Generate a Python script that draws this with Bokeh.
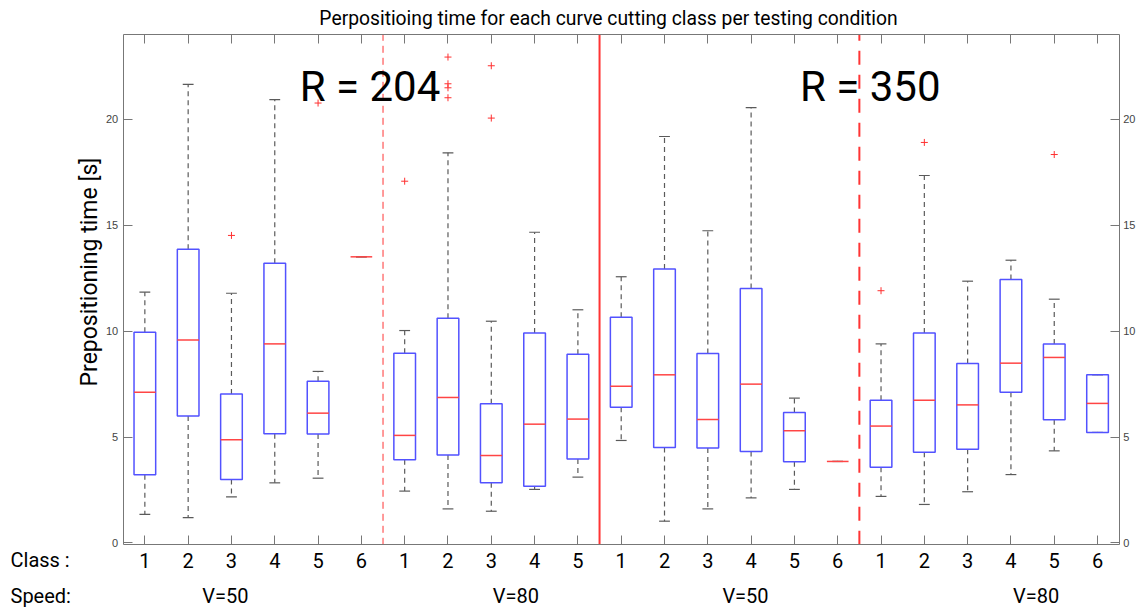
import numpy as np
from bokeh.plotting import figure
from bokeh.models import FixedTicker, LinearAxis, Range1d, Label
from bokeh.embed import file_html
from bokeh.resources import INLINE

# ---------------- data ----------------
class_labels = ["1", "2", "3", "4", "5", "6",
                "1", "2", "3", "4", "5",
                "1", "2", "3", "4", "5", "6",
                "1", "2", "3", "4", "5", "6"]
group_sizes = [6, 5, 6, 6]
speed_labels = ["V=50", "V=80", "V=50", "V=80"]
speed_label_x = [2.86, 9.57, 14.87, 21.58]
radius_labels = ["R = 204", "R = 350"]
radius_label_x = [6.20, 17.75]

whisker_low = [1.35, 1.20, 2.18, 2.84, 3.06, 13.51, 2.45, 1.61, 1.50, 2.53, 3.11,
               4.84, 1.03, 1.61, 2.13, 2.53, 3.85, 2.20, 1.82, 2.42, 3.23, 4.35, 5.22]
q1 = [3.22, 5.99, 3.00, 5.16, 5.14, 13.51, 3.93, 4.16, 2.84, 2.68, 3.96,
      6.41, 4.51, 4.48, 4.32, 3.83, 3.85, 3.58, 4.29, 4.43, 7.12, 5.82, 5.22]
median = [7.12, 9.58, 4.87, 9.40, 6.13, 13.51, 5.08, 6.87, 4.13, 5.61, 5.85,
          7.40, 7.94, 5.83, 7.50, 5.30, 3.85, 5.52, 6.74, 6.52, 8.49, 8.76, 6.59]
q3 = [9.95, 13.87, 7.04, 13.21, 7.64, 13.51, 8.96, 10.61, 6.57, 9.91, 8.91,
      10.66, 12.93, 8.95, 12.02, 6.16, 3.85, 6.74, 9.91, 8.47, 12.44, 9.40, 7.94]
whisker_high = [11.84, 21.65, 11.79, 20.93, 8.10, 13.51, 10.03, 18.42, 10.47, 14.67, 11.01,
                12.57, 19.19, 14.74, 20.55, 6.84, 3.85, 9.40, 17.35, 12.36, 13.35, 11.51, 7.94]
outlier_box = [3, 5, 7, 8, 8, 8, 8, 9, 9, 18, 19, 22]
outlier_value = [14.52, 20.77, 17.08, 22.94, 21.68, 21.49, 21.02, 22.53, 20.06, 11.91, 18.91, 18.34]
y_ticks = [0, 5, 10, 15, 20]
axis_x = (0.5, 23.5)
axis_y = (-0.085, 24.02)

title_text = "Perpositioing time for each curve cutting class per testing condition"
y_label_text = "Prepositioning time [s]"

# ---------------- layout (pixels) ----------------
W, H = 1138, 612
box_left, box_right, box_top, box_bottom = 122.7, 1118.7, 33.7, 544.3
sx = (box_right - box_left) / (axis_x[1] - axis_x[0])
sy = (box_bottom - box_top) / (axis_y[1] - axis_y[0])
x_range = Range1d(axis_x[0] - box_left / sx, axis_x[1] + (W - box_right) / sx)
y_range = Range1d(axis_y[0] - (H - box_bottom) / sy, axis_y[1] + box_top / sy)


def xpx(px):
    return axis_x[0] + (px - box_left) / sx


def ypx(py):
    return axis_y[1] - (py - box_top) / sy


def base_y(py, fs):
    # place a text's alphabetic baseline at pixel row py
    return ypx(py - 0.37 * fs)


n = len(class_labels)
pos = np.arange(1, n + 1)
half = 0.25
cap = 0.125
q1a, q3a = np.array(q1), np.array(q3)
has_box = q3a > q1a

p = figure(width=W, height=H, x_range=x_range, y_range=y_range,
           x_axis_location=None, y_axis_location=None,
           output_backend="svg", toolbar_location=None, min_border=0)
p.outline_line_color = None
p.grid.visible = False
p.background_fill_color = "white"
p.border_fill_color = "white"

AX = "#777777"
FONT = "Roboto"


def make_axis(side, ticks, loc, bounds, show_labels):
    ax = LinearAxis(fixed_location=loc, bounds=bounds, ticker=FixedTicker(ticks=list(ticks)))
    ax.major_tick_in = 9
    ax.major_tick_out = 0
    ax.minor_tick_line_color = None
    ax.axis_line_color = AX
    ax.major_tick_line_color = AX
    ax.axis_line_width = 1
    ax.major_tick_line_width = 1
    if not show_labels:
        ax.major_label_text_font_size = "1px"
        ax.major_label_text_color = None
        ax.major_label_standoff = 0
    p.add_layout(ax, side)
    return ax


xb = make_axis("below", pos, axis_y[0], axis_x, True)
xb.major_label_overrides = {int(i): s for i, s in zip(pos, class_labels)}
xb.major_label_text_font = FONT
xb.major_label_text_font_size = "20px"
xb.major_label_text_color = "black"
xb.major_label_standoff = 8

make_axis("above", pos, axis_y[1], axis_x, False)

for side, loc in (("left", axis_x[0]), ("right", axis_x[1])):
    ya = make_axis(side, y_ticks, loc, axis_y, True)
    ya.major_label_text_font = "Liberation Sans"
    ya.major_label_text_font_size = "11px"
    ya.major_label_text_color = "#444444"
    ya.major_label_standoff = 5 if side == "left" else 4

# group separators
bounds = np.cumsum(group_sizes)[:-1] + 0.5
sep_dash = ["7 5", "solid", "14 10"]
sep_width = [1, 2, 2]
for b, d, w in zip(bounds, sep_dash, sep_width):
    p.segment(x0=[b], y0=[axis_y[0]], x1=[b], y1=[axis_y[1]],
              line_color="#ff3434", line_width=w, line_dash=d)

# whiskers
WH = "#5a5a5a"
p.segment(x0=pos, y0=q3, x1=pos, y1=whisker_high, line_color=WH, line_width=1.2, line_dash="5 4")
p.segment(x0=pos, y0=q1, x1=pos, y1=whisker_low, line_color=WH, line_width=1.2, line_dash="5 4")
p.segment(x0=pos - cap, y0=whisker_high, x1=pos + cap, y1=whisker_high, line_color=WH, line_width=1.2)
p.segment(x0=pos - cap, y0=whisker_low, x1=pos + cap, y1=whisker_low, line_color=WH, line_width=1.2)

# boxes
p.quad(left=pos[has_box] - half, right=pos[has_box] + half,
       bottom=q1a[has_box], top=q3a[has_box],
       fill_alpha=0, line_color="#5252ff", line_width=1.5)
# medians
p.segment(x0=pos - half, y0=median, x1=pos + half, y1=median, line_color="#ff4545", line_width=1.5)
# outliers
p.scatter(x=outlier_box, y=outlier_value, marker="cross", size=7,
          line_color="#ff3030", line_width=1)

# texts
p.add_layout(Label(x=xpx(608), y=base_y(25, 19.3), text=title_text, text_align="center",
                   text_baseline="alphabetic", text_font=FONT,
                   text_font_size="19.3px", text_color="black"))
p.add_layout(Label(x=xpx(89), y=ypx(271.5), text=y_label_text, angle=np.pi / 2,
                   text_align="center", text_baseline="middle", text_font=FONT,
                   text_font_size="23px", text_color="black"))
for x, t in zip(radius_label_x, radius_labels):
    p.add_layout(Label(x=x, y=base_y(101.5, 42), text=t, text_align="center",
                       text_baseline="alphabetic", text_font=FONT,
                       text_font_size="42px", text_color="black"))
p.add_layout(Label(x=xpx(10), y=base_y(566.5, 20), text="Class :", text_align="left",
                   text_baseline="alphabetic", text_font=FONT,
                   text_font_size="20px", text_color="black"))
p.add_layout(Label(x=xpx(10), y=base_y(603, 20), text="Speed:", text_align="left",
                   text_baseline="alphabetic", text_font=FONT,
                   text_font_size="20px", text_color="black"))
for x, t in zip(speed_label_x, speed_labels):
    p.add_layout(Label(x=x, y=base_y(603, 20), text=t, text_align="center",
                       text_baseline="alphabetic", text_font=FONT,
                       text_font_size="20px", text_color="black"))

open("out.html", "w").write(file_html(p, INLINE))
